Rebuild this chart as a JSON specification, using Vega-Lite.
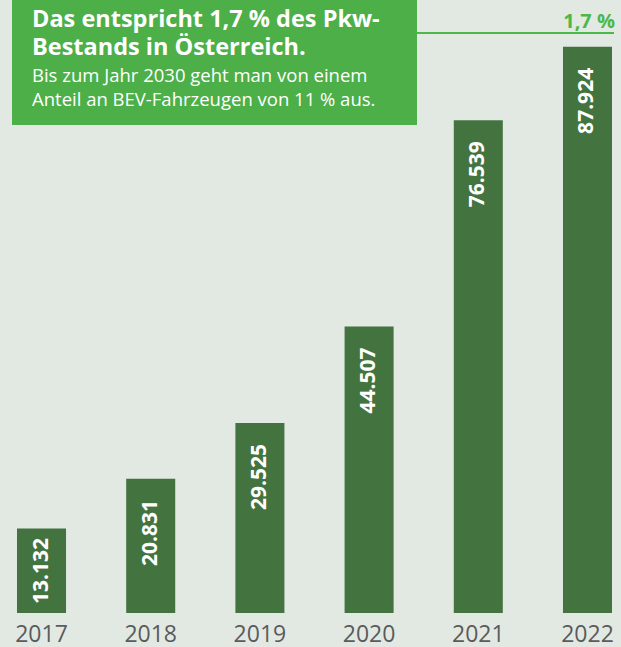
{
  "$schema": "https://vega.github.io/schema/vega-lite/v6.json",
  "width": 621,
  "height": 613,
  "autosize": {"type": "none"},
  "padding": {"left": 0, "right": 0, "top": 0, "bottom": 34},
  "background": "#e2e9e3",
  "config": {
    "view": {"stroke": null},
    "font": "Open Sans",
    "locale": {"number": {"decimal": ",", "thousands": ".", "grouping": [3], "currency": ["", " €"]}}
  },
  "data": {
    "values": [
      {"year": "2017", "value": 13132},
      {"year": "2018", "value": 20831},
      {"year": "2019", "value": 29525},
      {"year": "2020", "value": 44507},
      {"year": "2021", "value": 76539},
      {"year": "2022", "value": 87924}
    ]
  },
  "layer": [
    {
      "mark": {"type": "bar", "color": "#43743f"},
      "encoding": {
        "x": {
          "field": "year", "type": "ordinal",
          "scale": {"paddingInner": 0.551, "paddingOuter": 0.119, "align": 0.654},
          "axis": {"title": null, "ticks": false, "domain": false, "labelAngle": 0, "labelFont": "Open Sans", "labelFontSize": 23, "labelColor": "#5b5b5b", "labelPadding": 10}
        },
        "y": {"field": "value", "type": "quantitative", "scale": {"domain": [0, 95200], "nice": false}, "axis": null}
      }
    },
    {
      "transform": [{"filter": "datum.value >= 20000"}],
      "mark": {"type": "text", "angle": 270, "align": "right", "baseline": "middle", "dx": -21, "font": "Open Sans", "fontWeight": "bold", "fontSize": 21, "color": "#ffffff"},
      "encoding": {
        "x": {"field": "year", "type": "ordinal"},
        "y": {"field": "value", "type": "quantitative"},
        "text": {"field": "value", "type": "quantitative", "format": ",d"}
      }
    },
    {
      "transform": [{"filter": "datum.value < 20000"}],
      "mark": {"type": "text", "angle": 270, "align": "center", "baseline": "middle", "dx": -42.5, "font": "Open Sans", "fontWeight": "bold", "fontSize": 21, "color": "#ffffff"},
      "encoding": {
        "x": {"field": "year", "type": "ordinal"},
        "y": {"field": "value", "type": "quantitative"},
        "text": {"field": "value", "type": "quantitative", "format": ",d"}
      }
    },
    {
      "data": {"values": [{}]},
      "mark": {"type": "rect", "color": "#4caf48"},
      "encoding": {
        "x": {"value": 12}, "x2": {"value": 417},
        "y": {"value": 0}, "y2": {"value": 125}
      }
    },
    {
      "data": {"values": [{}]},
      "mark": {"type": "rule", "color": "#4cb848", "strokeWidth": 2},
      "encoding": {
        "x": {"value": 417}, "x2": {"value": 614},
        "y": {"value": 33}
      }
    },
    {
      "data": {"values": [{}]},
      "mark": {"type": "text", "align": "left", "baseline": "alphabetic", "lineHeight": 28, "font": "Open Sans", "fontWeight": "bold", "fontSize": 23.5, "color": "#ffffff"},
      "encoding": {
        "x": {"value": 32}, "y": {"value": 27},
        "text": {"value": ["Das entspricht 1,7 % des Pkw-", "Bestands in Österreich."]}
      }
    },
    {
      "data": {"values": [{}]},
      "mark": {"type": "text", "align": "left", "baseline": "alphabetic", "lineHeight": 24, "font": "Open Sans", "fontSize": 18.5, "color": "#ffffff"},
      "encoding": {
        "x": {"value": 32}, "y": {"value": 82},
        "text": {"value": ["Bis zum Jahr 2030 geht man von einem", "Anteil an BEV-Fahrzeugen von 11 % aus."]}
      }
    },
    {
      "data": {"values": [{}]},
      "mark": {"type": "text", "align": "right", "baseline": "alphabetic", "font": "Open Sans", "fontWeight": "bold", "fontSize": 20, "color": "#4cb848"},
      "encoding": {
        "x": {"value": 615}, "y": {"value": 28},
        "text": {"value": "1,7 %"}
      }
    }
  ]
}
